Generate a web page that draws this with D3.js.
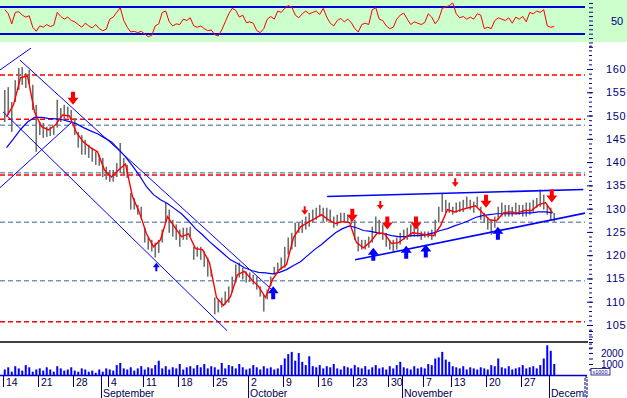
<!DOCTYPE html>
<html>
<head>
<meta charset="utf-8">
<script src="https://cdn.jsdelivr.net/npm/d3@7"></script>
<style>
  body { margin: 0; background: #fff; }
  svg { display: block; font-family: "Liberation Sans", Arial, sans-serif; }
</style>
</head>
<body>
<div id="chart"></div>
<script>
// half-day price ranges (Aug 14 - Dec 1, 2000), two bars per trading day
var barHigh = [155.5,156.1,152.9,157.6,160.2,160.4,159.1,159.8,156.6,152.3,
  148.6,148.4,147.6,147.6,147.6,153.4,151.6,152.3,151.9,151.2,
  149.5,146.5,145.8,144.8,143.7,143.1,142.2,141.6,140.9,139.0,
  138.3,138.3,139.8,144.1,140.9,139.4,133.4,132.3,130.8,130.4,
  125.9,123.8,123.3,122.7,123.3,125.5,131.3,129.8,127.6,126.6,
  125.5,125.9,125.9,126.1,121.8,121.8,121.8,120.8,119.5,116.9,
  110.9,110.5,110.9,112.2,113.3,115.4,118.0,118.4,117.3,116.5,
  116.3,115.8,115.4,113.3,111.5,112.6,115.4,117.5,118.4,119.5,
  121.8,123.8,124.8,127.0,127.0,127.6,128.3,129.1,129.8,130.2,
  130.8,130.2,130.2,129.8,128.3,128.7,129.1,129.1,128.7,128.3,
  127.6,124.0,123.3,123.3,124.0,126.1,128.3,127.6,126.6,124.8,
  123.3,123.3,123.8,124.8,125.5,125.9,126.6,126.6,126.1,125.1,
  125.1,125.1,125.5,127.6,130.4,133.4,131.9,131.3,130.4,131.3,
  131.5,131.9,132.6,131.9,131.5,132.6,130.4,129.1,128.1,127.6,
  128.3,130.4,131.3,130.8,130.8,130.4,131.3,130.8,130.8,131.3,
  131.3,131.9,132.3,134.1,133.0,130.8,130.2,129.1];
var barLow = [148.6,150.1,146.5,152.9,155.5,156.6,155.9,156.8,151.2,142.2,
  145.8,145.2,145.4,145.6,145.8,147.4,148.6,149.1,149.5,149.1,
  145.8,143.1,141.6,141.6,140.9,140.1,139.4,139.2,136.8,136.2,
  135.8,135.8,136.8,137.7,137.3,136.6,129.8,129.8,128.7,128.1,
  122.7,121.2,120.8,119.5,120.5,122.7,127.0,124.8,124.0,123.3,
  121.8,123.3,123.3,124.0,119.0,119.7,119.0,117.5,115.4,115.4,
  107.3,107.7,108.8,109.4,109.8,112.0,114.1,115.2,114.8,114.1,
  114.3,113.7,112.6,111.1,107.9,110.5,113.3,115.8,116.5,116.9,
  117.3,120.1,121.2,121.8,124.8,124.8,125.5,126.1,127.0,127.6,
  128.3,127.2,127.2,127.2,125.9,126.3,127.0,127.0,127.0,126.6,
  123.3,120.8,121.2,121.2,121.6,122.7,124.8,124.4,123.3,121.8,
  121.2,120.8,121.2,122.3,123.3,123.3,124.0,124.0,124.0,123.3,
  123.8,123.8,123.3,124.0,127.0,129.3,129.1,129.1,128.7,129.1,
  129.3,129.3,130.2,129.8,129.1,130.4,127.6,127.0,125.5,124.4,
  125.9,127.6,128.3,128.3,128.3,128.3,128.7,128.7,128.3,128.3,
  128.7,129.3,130.2,130.4,129.8,128.7,127.6,127.2];
// volume per half day, in thousands
var volume = [500,700,300,800,600,400,900,700,300,500,
  600,400,700,500,300,800,600,400,500,700,
  400,300,600,500,300,400,200,500,300,600,
  500,400,900,1100,600,500,700,400,600,800,
  500,700,600,900,1300,600,800,500,700,600,
  1000,500,700,800,600,900,700,1000,600,800,
  700,500,1100,600,900,800,600,1000,700,500,
  600,900,700,500,800,600,700,500,600,900,
  1500,1900,2100,1300,2000,1200,900,1700,800,700,
  900,600,800,700,1000,600,500,800,700,600,
  900,700,600,800,500,700,900,600,700,500,
  800,600,900,1200,700,600,500,800,600,700,
  600,1000,900,1500,1600,2100,1400,1200,800,700,
  600,800,500,700,600,500,700,600,500,900,
  800,1500,700,600,800,500,600,700,900,600,
  700,800,600,900,1500,2700,2200,1000];
// RSI per half day
var rsi = [66,60,45,62,63,58,55,57,40,34,
  42,40,44,41,43,62,56,52,55,50,
  48,44,40,46,42,39,44,38,35,37,
  52,55,62,69,50,40,33,34,32,34,
  30,26,28,42,45,62,64,48,42,45,
  44,52,50,54,42,40,42,38,35,36,
  29,27,36,48,60,68,65,55,58,47,
  48,46,35,32,38,52,56,52,64,62,
  68,72,70,58,54,60,64,60,62,64,
  59,68,55,46,42,50,53,48,52,47,
  38,33,44,46,44,66,69,52,50,42,
  38,40,52,58,61,52,44,48,46,44,
  47,60,55,45,52,68,70,72,76,60,
  54,56,52,55,52,60,58,38,40,38,
  50,54,52,50,54,46,55,52,56,48,
  62,60,64,62,66,42,40,41];
// daily moving averages
var fastAvg = [149.7,152.3,158.1,158.5,150.8,147.6,146.9,148.0,150.1,149.9,
  146.3,144.3,143.1,142.2,138.3,136.8,138.3,139.6,132.6,129.1,
  124.6,121.8,123.3,128.3,126.1,124.0,124.6,121.4,121.2,118.4,
  110.9,109.2,111.1,115.8,116.5,114.8,113.3,110.9,114.8,116.9,
  118.0,123.8,126.1,127.0,127.8,128.7,127.6,126.8,127.2,127.0,
  122.7,121.6,122.9,124.8,124.6,122.5,122.7,123.8,124.8,124.6,
  124.4,124.2,126.3,129.8,129.3,129.8,130.2,130.6,129.1,127.6,
  127.4,129.1,129.3,129.1,129.6,129.6,130.8,131.3,129.1];
var slowAvg = [143.1,145.0,147.0,148.6,149.6,149.6,149.4,149.3,149.1,148.7,
  148.2,147.4,146.7,146.1,145.2,144.3,142.8,141.1,139.2,137.1,
  134.7,133.0,131.9,131.1,130.0,128.9,127.4,125.7,124.4,122.9,
  121.6,120.3,119.0,118.2,117.3,116.7,116.3,116.2,116.0,116.3,
  116.9,117.8,118.6,119.9,121.2,122.3,123.6,124.8,125.7,126.3,
  125.9,125.3,125.1,124.8,124.6,124.2,124.0,124.0,124.2,124.2,
  124.4,124.8,125.3,125.7,126.3,126.8,127.4,128.1,128.5,128.7,
  128.9,128.9,128.9,128.9,129.1,129.1,129.3,129.3,129.1];

var redLevels = [158.7, 149.2, 137.2, 105.7];
var greyLevels = [147.9, 137.7, 127.1, 114.5];
// trend lines as [trading day, price] end points
var channelLines = [
  [[-0.43, 159.8], [4.0, 164.5]],
  [[2.43, 161.9], [38.4, 112.6]],
  [[0, 150.8], [32, 103.8]],
  [[-0.43, 134.5], [9.86, 148.6]]
];
var rangeLines = [
  [[46.3, 132.6], [82.9, 134.1]],
  [[50.3, 119.0], [83.4, 129.1]]
];
var bigSell = [[10.0, 152.3], [49.9, 127.2], [54.9, 125.5], [59.0, 125.5], [69.0, 130.2], [78.4, 131.3]];
var smallSell = [[43.1, 128.7], [53.9, 129.8], [64.6, 134.7]];
var bigBuy = [[38.6, 113.3], [52.9, 121.6], [57.6, 122.0], [60.4, 122.3], [70.7, 126.1]];
var smallBuy = [[21.9, 118.4]];

var weekStarts = [0, 5, 10, 15, 20, 25, 30, 35, 40, 45, 50, 55, 60, 64, 69, 74];
var weekLabels = ["14","21","28","4","11","18","25","2","9","16","23","30","7","13","20","27"];
var monthStarts = [14, 35, 57, 78];
var monthLabels = ["September", "October", "November", "December"];

var W = 627, H = 398;
var svg = d3.select("#chart").append("svg").attr("width", W).attr("height", H);

var x = d3.scaleLinear().domain([0, 83]).range([3, 584]);
var yP = d3.scaleLinear().domain([105, 160]).range([325, 69]);
var yR = d3.scaleLinear().domain([30, 70]).range([34, 7]);
var yV = d3.scaleLinear().domain([0, 1000]).range([375, 364]);
var navy = "#000080";

var defs = svg.append("defs");
defs.append("clipPath").attr("id", "clipP").append("rect").attr("x", 0).attr("y", 42).attr("width", 585).attr("height", 300);
defs.append("clipPath").attr("id", "clipX").append("rect").attr("x", 0).attr("y", 370).attr("width", 584).attr("height", 30);

// RSI panel
svg.append("rect").attr("x", 0).attr("y", 0).attr("width", W).attr("height", 42).attr("fill", "#ccffcc");
svg.selectAll("line.rsiband").data([70, 30]).enter().append("line").attr("class", "rsiband")
  .attr("x1", 0).attr("x2", 585).attr("y1", function (d) { return yR(d); }).attr("y2", function (d) { return yR(d); })
  .attr("stroke", "#0000e0").attr("stroke-width", 2);
svg.append("path").datum(rsi)
  .attr("d", d3.line().x(function (d, k) { return x(k / 2 + 0.25); }).y(function (d) { return yR(d); }))
  .attr("fill", "none").attr("stroke", "#ff0000").attr("stroke-width", 1);
var rsiAxis = svg.append("g").attr("transform", "translate(589,0)")
  .call(d3.axisRight(yR).tickValues(d3.range(-6, 7).map(function (k) { return 50 + k * 6.5; })).tickSize(4).tickFormat(""));
rsiAxis.select(".domain").remove();
rsiAxis.selectAll("line").attr("stroke", navy);
svg.append("text").attr("x", 611).attr("y", yR(50) + 4).attr("font-size", 11).attr("fill", navy).text("50");

// price panel
var pg = svg.append("g").attr("clip-path", "url(#clipP)");
pg.selectAll("line.red").data(redLevels).enter().append("line")
  .attr("x1", 0).attr("x2", 585).attr("y1", function (d) { return yP(d); }).attr("y2", function (d) { return yP(d); })
  .attr("stroke", "#ff0000").attr("stroke-width", 1.5).attr("stroke-dasharray", "5,3");
pg.selectAll("line.grey").data(greyLevels).enter().append("line")
  .attr("x1", 0).attr("x2", 585).attr("y1", function (d) { return yP(d); }).attr("y2", function (d) { return yP(d); })
  .attr("stroke", "#7a96b8").attr("stroke-width", 1.5).attr("stroke-dasharray", "5,3");

pg.selectAll("rect.bar").data(barHigh).enter().append("rect")
  .attr("x", function (d, k) { return x(k / 2 + 0.25) - 0.8; })
  .attr("y", function (d) { return yP(d); })
  .attr("width", 1.6)
  .attr("height", function (d, k) { return Math.max(1, yP(barLow[k]) - yP(d)); })
  .attr("fill", "#6e6e6e");

var seg = d3.line().x(function (p) { return x(p[0]); }).y(function (p) { return yP(p[1]); });
pg.selectAll("path.chan").data(channelLines).enter().append("path")
  .attr("d", seg).attr("stroke", "#0000ff").attr("stroke-width", 1).attr("fill", "none");
pg.selectAll("path.range").data(rangeLines).enter().append("path")
  .attr("d", seg).attr("stroke", "#0000ff").attr("stroke-width", 1.6).attr("fill", "none");

var avgLine = d3.line().x(function (d, i) { return x(i + 0.5); }).y(function (d) { return yP(d); });
pg.append("path").datum(slowAvg).attr("d", avgLine).attr("fill", "none").attr("stroke", "#0000ff").attr("stroke-width", 1.2);
pg.append("path").datum(fastAvg).attr("d", avgLine).attr("fill", "none").attr("stroke", "#ff0000").attr("stroke-width", 1.4);

function arrows(data, pts, color, dir) {
  pg.selectAll(null).data(data).enter().append("polygon")
    .attr("points", pts.map(function (p) { return p[0] + "," + (p[1] * dir); }).join(" "))
    .attr("transform", function (d) { return "translate(" + x(d[0]) + "," + yP(d[1]) + ")"; })
    .attr("fill", color);
}
var bigPts = [[0, 0], [-5.5, -7], [-2, -7], [-2, -13], [2, -13], [2, -7], [5.5, -7]];
var smallPts = [[0, 0], [-3.5, -4.5], [-1, -4.5], [-1, -8.5], [1, -8.5], [1, -4.5], [3.5, -4.5]];
arrows(bigSell, bigPts, "#ff0000", 1);
arrows(smallSell, smallPts, "#ff0000", 1);
arrows(bigBuy, bigPts, "#0000ff", -1);
arrows(smallBuy, smallPts, "#0000ff", -1);

// price axis
var minorAx = svg.append("g").attr("transform", "translate(589,0)")
  .call(d3.axisRight(yP).tickValues(d3.range(99, 166)).tickSize(3).tickFormat(""));
var majorAx = svg.append("g").attr("transform", "translate(587,0)")
  .call(d3.axisRight(yP).tickValues(d3.range(105, 161, 5)).tickSize(6).tickPadding(13));
[minorAx, majorAx].forEach(function (a) {
  a.select(".domain").remove();
  a.selectAll("line").attr("stroke", navy);
});
majorAx.selectAll("text").attr("font-size", 11).attr("fill", navy).attr("font-family", "Liberation Sans, Arial, sans-serif").attr("letter-spacing", 0.6);

// volume panel
svg.append("line").attr("x1", 0).attr("x2", 588).attr("y1", 342).attr("y2", 342).attr("stroke", "#000").attr("stroke-width", 1.5);
svg.selectAll("rect.vol").data(volume).enter().append("rect")
  .attr("x", function (d, k) { return x(k / 2 + 0.25) - 1; })
  .attr("y", function (d) { return yV(d); })
  .attr("width", 2)
  .attr("height", function (d) { return yV(0) - yV(d); })
  .attr("fill", "#0000ff");
var volAx = svg.append("g").attr("transform", "translate(589,0)")
  .call(d3.axisRight(yV).tickValues(d3.range(500, 4001, 500)).tickSize(4).tickFormat(""));
volAx.select(".domain").remove();
volAx.selectAll("line").attr("stroke", navy);
svg.selectAll("text.vlab").data([2000, 1000]).enter().append("text")
  .attr("x", 601).attr("y", function (d) { return yV(d) + 3.5; })
  .attr("font-size", 10).attr("fill", navy).text(function (d) { return d; });
svg.append("rect").attr("x", 591).attr("y", 368.5).attr("width", 19).attr("height", 6.5).attr("fill", "#fff").attr("stroke", navy).attr("stroke-width", 0.8);
svg.append("text").attr("x", 592.5).attr("y", 374).attr("font-size", 5.5).attr("fill", navy).text("x1000");

// date axis
svg.append("line").attr("x1", 0).attr("x2", 587).attr("y1", 375.5).attr("y2", 375.5).attr("stroke", "#0000c0").attr("stroke-width", 1.5);
var xg = svg.append("g").attr("clip-path", "url(#clipX)");
xg.selectAll("line.wk").data(weekStarts).enter().append("line")
  .attr("x1", function (d) { return x(d) + 0.5; }).attr("x2", function (d) { return x(d) + 0.5; })
  .attr("y1", 376).attr("y2", 387).attr("stroke", navy);
xg.selectAll("text.wk").data(weekStarts).enter().append("text")
  .attr("x", function (d) { return x(d) + 3; }).attr("y", 385.5)
  .attr("font-size", 10.5).attr("fill", "#000050").text(function (d, i) { return weekLabels[i]; });
xg.selectAll("line.mo").data(monthStarts).enter().append("line")
  .attr("x1", function (d) { return x(d) + 0.5; }).attr("x2", function (d) { return x(d) + 0.5; })
  .attr("y1", 376).attr("y2", 398).attr("stroke", navy);
xg.selectAll("text.mo").data(monthStarts).enter().append("text")
  .attr("x", function (d) { return x(d) + 2; }).attr("y", 396.5)
  .attr("font-size", 10.5).attr("fill", "#000050").text(function (d, i) { return monthLabels[i]; });
svg.append("rect").attr("x", 585).attr("y", 377).attr("width", 2).attr("height", 20)
  .attr("fill", "none").attr("stroke", navy).attr("stroke-width", 1).attr("stroke-dasharray", "3,1");
</script>
</body>
</html>
